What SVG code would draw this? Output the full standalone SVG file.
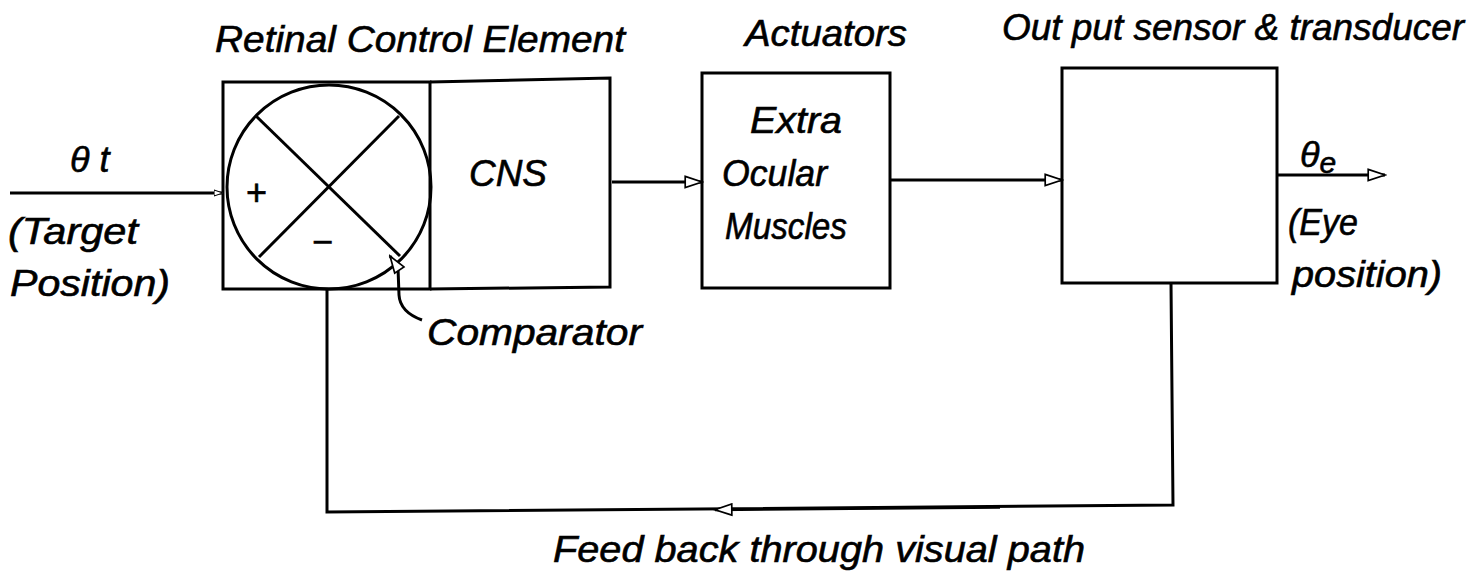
<svg xmlns="http://www.w3.org/2000/svg" width="1469" height="573" viewBox="0 0 1469 573">
<style>
.s{fill:none;stroke:#000;stroke-width:3}
.t{font-family:"Liberation Sans",Arial,sans-serif;font-style:italic;font-size:36px;fill:#000;stroke:#000;stroke-width:0.6}
</style>
<defs>
<marker id="ah" viewBox="0 0 12 10" refX="12" refY="5" markerWidth="9" markerHeight="8" orient="auto" markerUnits="userSpaceOnUse">
<path d="M0,1 L12,5 L0,9 Z" fill="#fff" stroke="#000" stroke-width="1.5"/>
</marker>
<marker id="ah2" viewBox="0 0 12 10" refX="12" refY="5" markerWidth="20" markerHeight="14" orient="auto" markerUnits="userSpaceOnUse">
<path d="M0,1 L12,5 L0,9 Z" fill="#fff" stroke="#000" stroke-width="1.2"/>
</marker>
</defs>
<rect width="1469" height="573" fill="#fff"/>
<g id="comparator">
<rect class="s" x="223" y="82" width="207" height="207"/>
<circle class="s" cx="329" cy="187" r="102"/>
<line class="s" x1="256" y1="116" x2="400" y2="256"/>
<line class="s" x1="399" y1="116" x2="259" y2="257"/>
<text class="t" x="256" y="205" text-anchor="middle" font-style="normal" font-size="40">+</text>
<text class="t" x="322" y="254" text-anchor="middle" font-style="normal" font-size="40">−</text>
</g>
<g id="cns">
<path class="s" d="M430,82 L610,78 L610,287 L430,289"/>
<text class="t" x="508" y="186" text-anchor="middle" textLength="78" lengthAdjust="spacingAndGlyphs">CNS</text>
</g>
<g id="label-retinal">
<text class="t" x="215" y="52" textLength="410" lengthAdjust="spacingAndGlyphs">Retinal Control Element</text>
</g>
<g id="actuators">
<rect class="s" x="702" y="73" width="188" height="215"/>
<text class="t" x="745" y="46" textLength="162" lengthAdjust="spacingAndGlyphs">Actuators</text>
<text class="t" x="750" y="133" textLength="92" lengthAdjust="spacingAndGlyphs">Extra</text>
<text class="t" x="722" y="186" textLength="105" lengthAdjust="spacingAndGlyphs">Ocular</text>
<text class="t" x="725" y="239" textLength="122" lengthAdjust="spacingAndGlyphs">Muscles</text>
</g>
<g id="output-sensor">
<rect class="s" x="1062" y="68" width="215" height="215"/>
<text class="t" x="1002" y="40" textLength="462" lengthAdjust="spacingAndGlyphs">Out put sensor &amp; transducer</text>
</g>
<g id="labels">
<text class="t" x="70" y="172">θ t</text>
<text class="t" x="8" y="244" textLength="130" lengthAdjust="spacingAndGlyphs">(Target</text>
<text class="t" x="10" y="296" textLength="160" lengthAdjust="spacingAndGlyphs">Position)</text>
<text class="t" x="1300" y="167">θ<tspan font-size="30" dy="6">e</tspan></text>
<text class="t" x="1288" y="235" textLength="70" lengthAdjust="spacingAndGlyphs">(Eye</text>
<text class="t" x="1292" y="287" textLength="150" lengthAdjust="spacingAndGlyphs">position)</text>
<text class="t" x="427" y="345" textLength="215" lengthAdjust="spacingAndGlyphs">Comparator</text>
<text class="t" x="553" y="562" textLength="532" lengthAdjust="spacingAndGlyphs">Feed back through visual path</text>
</g>
<g id="connectors">
<line class="s" x1="10" y1="193" x2="223" y2="193" marker-end="url(#ah)"/>
<line class="s" x1="612" y1="182" x2="702" y2="182" marker-end="url(#ah2)"/>
<line class="s" x1="890" y1="180" x2="1062" y2="180" marker-end="url(#ah2)"/>
<line class="s" x1="1277" y1="175" x2="1385" y2="175" marker-end="url(#ah2)"/>
<path class="s" d="M1171,283 L1173,505 L327,512 L327,289"/>
<line class="s" x1="1000" y1="507.3" x2="715" y2="509.7" marker-end="url(#ah2)" stroke-width="0"/>
<path class="s" stroke-width="2.5" d="M422,320 Q400,312 399,295 L398,268 L390,256" marker-end="url(#ah2)"/>
</g>
</svg>
